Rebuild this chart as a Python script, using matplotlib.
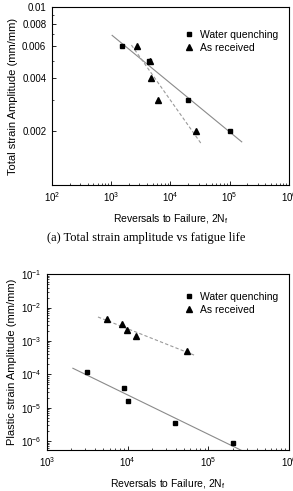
import numpy as np
import matplotlib.pyplot as plt
from matplotlib import rcParams
from matplotlib.ticker import FixedLocator, LogLocator, NullFormatter

rcParams['font.family'] = ['Liberation Sans', 'DejaVu Sans']
rcParams['mathtext.default'] = 'regular'

# (a) total strain amplitude
wq_n_total = [1550, 4300, 19500, 100000]
wq_eps_total = [0.006, 0.005, 0.003, 0.002]
ar_n_total = [2700, 4600, 4800, 6100, 27000]
ar_eps_total = [0.006, 0.005, 0.004, 0.003, 0.002]
wq_fit_range_a = [1040, 160000]
ar_fit_range_a = [2200, 33000]
yticks_a = [0.002, 0.004, 0.006, 0.008, 0.01]
yticklabels_a = ['0.002', '0.004', '0.006', '0.008', '0.01']

# (b) plastic strain amplitude
wq_n_plastic = [3150, 9100, 10000, 39000, 200000]
wq_eps_plastic = [1.15e-4, 3.8e-5, 1.55e-5, 3.5e-6, 9e-7]
ar_n_plastic = [5600, 8500, 9800, 12700, 54000]
ar_eps_plastic = [4.4e-3, 3.2e-3, 2.2e-3, 1.45e-3, 5.0e-4]
wq_fit_range_b = [2100, 300000]
ar_fit_range_b = [4300, 68000]


def fit_line(ax, n, eps, xr, **kw):
    k, b = np.polyfit(np.log10(n), np.log10(eps), 1)
    xs = np.array(xr, dtype=float)
    ax.plot(xs, 10 ** (k * np.log10(xs) + b), **kw)


def style(ax):
    ax.tick_params(which='both', direction='in', labelsize=7, pad=4)
    ax.tick_params(which='major', length=3, width=0.6)
    ax.tick_params(which='minor', length=1.5, width=0.5)
    for s in ax.spines.values():
        s.set_linewidth(0.8)


fig = plt.figure(figsize=(2.93, 4.91), dpi=100)

ax1 = fig.add_axes([0.177, 0.623, 0.809, 0.363])
ax1.set_xscale('log')
ax1.set_yscale('log')
fit_line(ax1, wq_n_total, wq_eps_total, wq_fit_range_a, color='#8a8a8a', lw=0.8)
fit_line(ax1, ar_n_total, ar_eps_total, ar_fit_range_a, color='#9a9a9a', lw=0.8, ls=(0, (3, 2)))
ax1.plot(wq_n_total, wq_eps_total, 's', color='black', ms=3.5, ls='none', label='Water quenching')
ax1.plot(ar_n_total, ar_eps_total, '^', color='black', ms=4.2, ls='none', label='As received')
ax1.set_xlim(1e2, 1e6)
ax1.set_ylim(0.001, 0.01)
ax1.yaxis.set_major_locator(FixedLocator(yticks_a))
ax1.yaxis.set_minor_locator(LogLocator(base=10, subs=np.arange(2, 10)))
ax1.yaxis.set_minor_formatter(NullFormatter())
ax1.set_yticklabels(yticklabels_a)
ax1.xaxis.set_minor_locator(LogLocator(base=10, subs=np.arange(2, 10)))
ax1.xaxis.set_minor_formatter(NullFormatter())
ax1.set_xticks([1e2, 1e3, 1e4, 1e5, 1e6])
ax1.set_xticklabels(['$10^2$', '$10^3$', '$10^4$', '$10^5$', '$10^6$'])
style(ax1)
ax1.set_xlabel('Reversals to Failure, 2N$_f$', fontsize=7.5, labelpad=6)
ax1.set_ylabel('Total strain Amplitude (mm/mm)', fontsize=8, labelpad=3)
ax1.legend(loc='upper right', frameon=False, fontsize=7.5, handletextpad=0.6,
           handlelength=1.0, borderaxespad=0.6, labelspacing=0.3,
           bbox_to_anchor=(1.0, 0.93))
fig.text(0.5, 0.515, '(a) Total strain amplitude vs fatigue life',
         ha='center', va='center', fontsize=9, family='Liberation Serif')

ax2 = fig.add_axes([0.160, 0.0835, 0.826, 0.358])
ax2.set_xscale('log')
ax2.set_yscale('log')
fit_line(ax2, wq_n_plastic, wq_eps_plastic, wq_fit_range_b, color='#8a8a8a', lw=0.8)
fit_line(ax2, ar_n_plastic, ar_eps_plastic, ar_fit_range_b, color='#9a9a9a', lw=0.8, ls=(0, (3, 2)))
ax2.plot(wq_n_plastic, wq_eps_plastic, 's', color='black', ms=3.5, ls='none', label='Water quenching')
ax2.plot(ar_n_plastic, ar_eps_plastic, '^', color='black', ms=4.2, ls='none', label='As received')
ax2.set_xlim(1e3, 1e6)
ax2.set_ylim(5.4e-7, 1e-1)
ax2.set_xticks([1e3, 1e4, 1e5, 1e6])
ax2.set_xticklabels(['$10^3$', '$10^4$', '$10^5$', '$10^6$'])
ax2.set_yticks([1e-6, 1e-5, 1e-4, 1e-3, 1e-2, 1e-1])
ax2.set_yticklabels(['$10^{-6}$', '$10^{-5}$', '$10^{-4}$', '$10^{-3}$', '$10^{-2}$', '$10^{-1}$'])
ax2.xaxis.set_minor_locator(LogLocator(base=10, subs=np.arange(2, 10)))
ax2.yaxis.set_minor_locator(LogLocator(base=10, subs=np.arange(2, 10)))
ax2.xaxis.set_minor_formatter(NullFormatter())
ax2.yaxis.set_minor_formatter(NullFormatter())
style(ax2)
ax2.set_xlabel('Reversals to Failure, 2N$_f$', fontsize=7.5, labelpad=6)
ax2.set_ylabel('Plastic strain Amplitude (mm/mm)', fontsize=8, labelpad=3)
ax2.legend(loc='upper right', frameon=False, fontsize=7.5, handletextpad=0.6,
           handlelength=1.0, borderaxespad=0.6, labelspacing=0.3,
           bbox_to_anchor=(1.0, 0.96))

fig.savefig('out.png', dpi=100)
